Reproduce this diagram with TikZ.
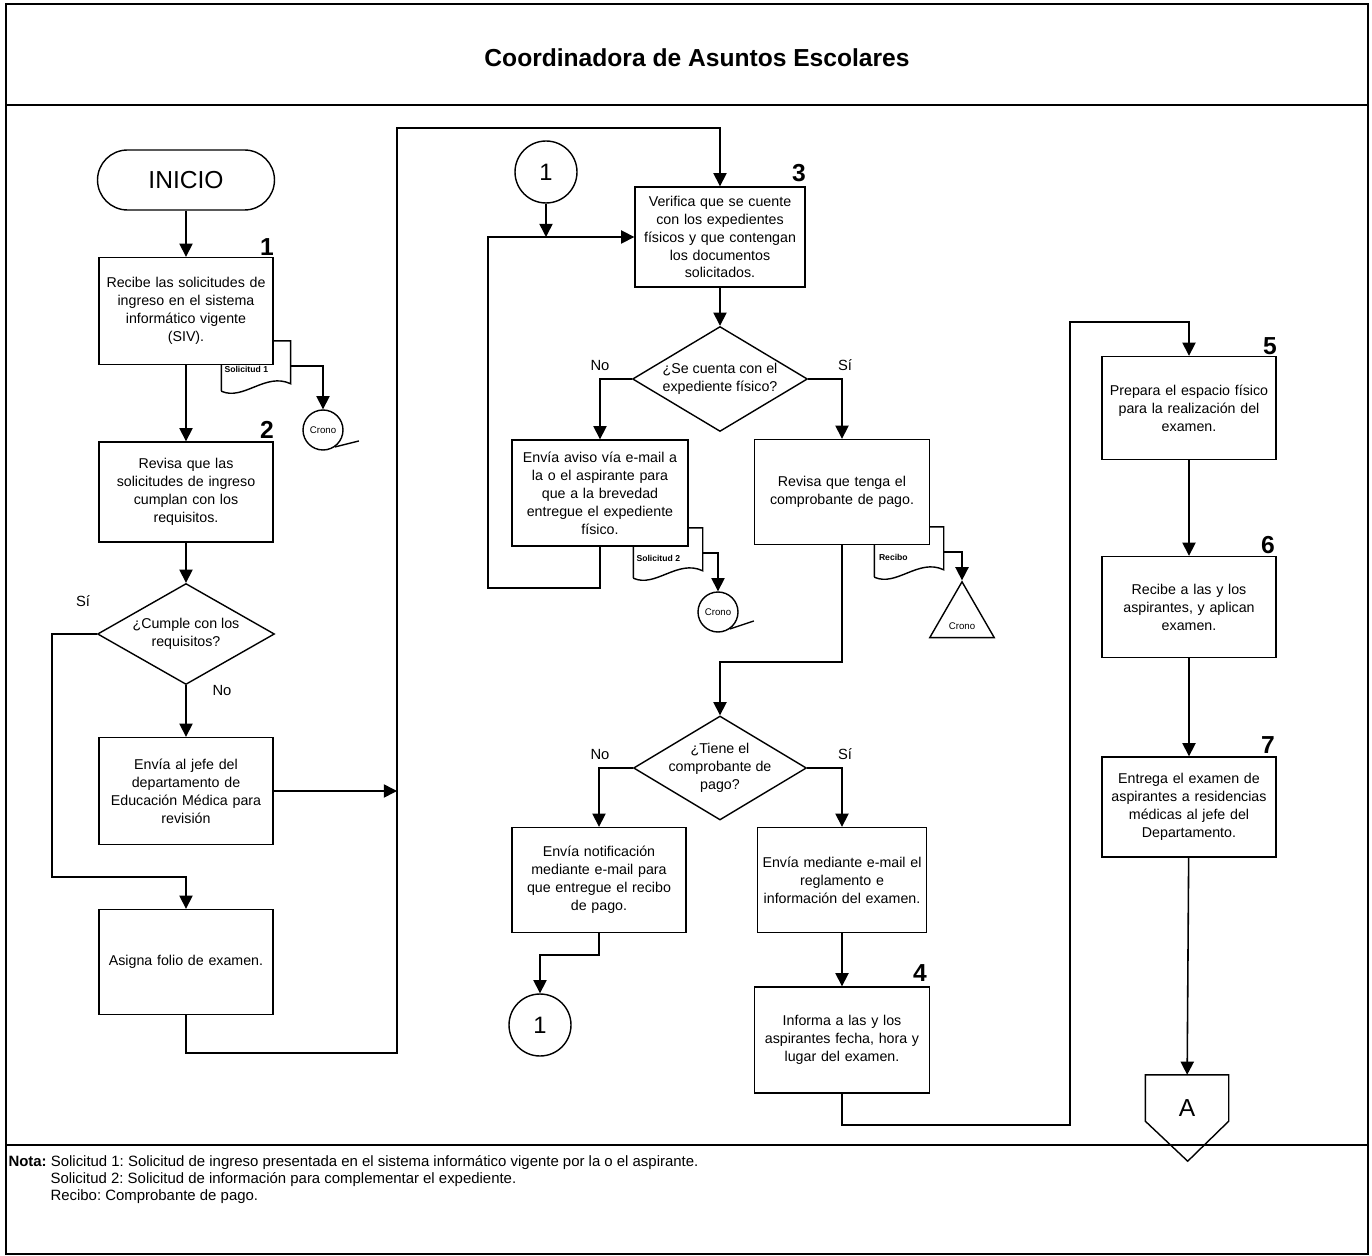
\documentclass[tikz,border=0pt]{standalone}
\usepackage{fontspec}
\setmainfont{Liberation Sans}
\frenchspacing
\usetikzlibrary{shapes.geometric,arrows.meta}
\newcommand{\downtext}[2]{\raisebox{#1}[0pt][0pt]{#2}}
\begin{document}
\begin{tikzpicture}[x=0.02cm, y=-0.02cm, line width=0.8pt,
  every node/.style={font=\fontsize{8.1}{10.2}\selectfont},
  proc/.style={draw,fill=white,minimum width=3.48cm,minimum height=2.08cm,text width=3.3cm,align=center,inner sep=1pt},
  decision/.style={draw,fill=white,diamond,aspect=1.7,minimum width=3.5cm,minimum height=2.1cm,inner sep=-6pt,align=center},
  start/.style={draw,rounded corners=0.6cm,minimum width=3.54cm,minimum height=1.2cm,font=\fontsize{14}{16}\selectfont},
  conn/.style={draw,circle,minimum size=1.24cm,inner sep=0pt,font=\fontsize{13.5}{15}\selectfont},
  crono/.style={draw,circle,minimum size=0.8cm,inner sep=0pt,font=\fontsize{5.5}{6}\selectfont},
  docbox/.style={minimum width=1.36cm,minimum height=0.98cm,inner sep=0pt,font=\fontsize{4.9}{5}\selectfont\bfseries},
  num/.style={font=\fontsize{14}{16}\selectfont\bfseries,inner sep=0pt},
  branch/.style={font=\fontsize{8.4}{9}\selectfont},
  notetext/.style={anchor=west,font=\fontsize{8.5}{9}\selectfont},
  arr/.style={-{Triangle[length=7.5pt,width=7.5pt]},line width=0.9pt}]

\useasboundingbox (0,0) rectangle (1372,1256);
\draw[line width=1.2pt] (6,4) rectangle (1368,1254);
\draw[line width=1.2pt] (6,105) -- (1368,105);
\draw[line width=1.6pt] (6,1145) -- (1368,1145);
\node[font=\fontsize{14}{16}\selectfont\bfseries] (title) at (697,58) {Coordinadora de Asuntos Escolares};

% documentos
\node[docbox] (sol1) at (256,366) {\makebox[1.26cm][l]{\downtext{-0.14cm}{Solicitud 1}}};
\draw (sol1.south west) -- (sol1.north west) -- (sol1.north east) -- ++(0,43) .. controls +(-25,-12) and +(22,10) .. (sol1.south west);
\node[docbox] (sol2) at (668,553) {\makebox[1.26cm][l]{\downtext{-0.18cm}{Solicitud 2}}};
\draw (sol2.south west) -- (sol2.north west) -- (sol2.north east) -- ++(0,43) .. controls +(-25,-12) and +(22,10) .. (sol2.south west);
\node[docbox] (recibo) at (909,552) {\makebox[1.2cm][l]{\downtext{-0.18cm}{Recibo}}};
\draw (recibo.south west) -- (recibo.north west) -- (recibo.north east) -- ++(0,43) .. controls +(-25,-12) and +(22,10) .. (recibo.south west);
\node[crono] (cr1) at (323,430) {Crono};
\node[crono] (cr2) at (718,612) {Crono};
\node[draw,regular polygon,regular polygon sides=3,minimum size=1.29cm,inner sep=0pt,font=\fontsize{5.5}{6}\selectfont] (tri) at (962,619) {\downtext{-0.22cm}{Crono}};

% columna 1
\node[start] (inicio) at (186,180) {INICIO};
\node[num] (n1) at (267,247) {1};
\node[proc,minimum height=2.14cm] (b1) at (186,311) {Recibe las solicitudes de\\ingreso en el sistema\\informático vigente\\(SIV).};
\node[num] (n2) at (267,430) {2};
\node[proc,minimum height=2cm] (b2) at (186,492) {Revisa que las\\solicitudes de ingreso\\cumplan con los\\requisitos.};
\node[decision,minimum width=3.54cm,minimum height=2.02cm] (d1) at (186,634) {¿Cumple con los\\requisitos?};
\node[branch] (si1) at (83,601) {Sí};
\node[branch] (no1) at (222,690) {No};
\node[proc,minimum height=2.14cm] (jefe) at (186,791) {Envía al jefe del\\departamento de\\Educación Médica para\\revisión};
\node[proc,minimum height=2.1cm] (folio) at (186,962) {Asigna folio de examen.};

% columna 2
\node[conn] (c1) at (546,172) {1};
\node[num] (n3) at (799,173) {3};
\node[proc,minimum width=3.4cm,minimum height=2cm] (b3) at (720,237) {Verifica que se cuente\\con los expedientes\\físicos y que contengan\\los documentos\\solicitados.};
\node[decision] (d2) at (720,379) {¿Se cuenta con el\\expediente físico?};
\node[branch] (no2) at (600,365) {No};
\node[branch] (si2) at (845,365) {Sí};
\node[proc,minimum width=3.52cm,minimum height=2.12cm] (aviso) at (600,493) {Envía aviso vía e-mail a\\la o el aspirante para\\que a la brevedad\\entregue el expediente\\físico.};
\node[proc,minimum width=3.5cm,minimum height=2.1cm] (pago) at (842,492) {Revisa que tenga el\\comprobante de pago.};
\node[decision,minimum width=3.46cm,minimum height=2.08cm] (d3) at (720,768) {¿Tiene el\\comprobante de\\pago?};
\node[branch] (no3) at (600,754) {No};
\node[branch] (si3) at (845,754) {Sí};
\node[proc,minimum width=3.48cm,minimum height=2.1cm] (notif) at (599,880) {Envía notificación\\mediante e-mail para\\que entregue el recibo\\de pago.};
\node[proc,minimum width=3.36cm,minimum height=2.1cm] (mediante) at (842,880) {Envía mediante e-mail el\\reglamento e\\información del examen.};
\node[conn] (c1b) at (540,1025) {1};
\node[num] (n4) at (920,973) {4};
\node[proc,minimum width=3.5cm,minimum height=2.12cm] (b4) at (842,1040) {Informa a las y los\\aspirantes fecha, hora y\\lugar del examen.};

% columna 3
\node[num] (n5) at (1270,346) {5};
\node[proc,minimum height=2.06cm] (b5) at (1189,408) {Prepara el espacio físico\\para la realización del\\examen.};
\node[num] (n6) at (1268,545) {6};
\node[proc,minimum height=2.02cm] (b6) at (1189,607) {Recibe a las y los\\aspirantes, y aplican\\examen.};
\node[num] (n7) at (1268,745) {7};
\node[proc,minimum height=2cm] (b7) at (1189,807) {Entrega el examen de\\aspirantes a residencias\\médicas al jefe del\\Departamento.};
\node[minimum width=1.64cm,minimum height=0.9cm,inner sep=0pt,font=\fontsize{14}{16}\selectfont] (offA) at (1187,1098) {\downtext{-0.36cm}{A}};
\draw (offA.south west) -- (offA.north west) -- (offA.north east) -- (offA.south east) -- ++(-41,40) -- cycle;

% conectores
\draw[arr] (inicio) -- (b1);
\draw[arr] (b1) -- (b2);
\draw[arr] (b2) -- (d1);
\draw[arr] (d1) -- (jefe);
\coordinate (siL) at (52,877);
\draw[arr] (d1.west) -| (siL) -| (folio.north);
\coordinate (busB) at (397,1053);
\coordinate (busT) at (397,128);
\draw[arr] (jefe.east) -- (jefe.east -| busB);
\draw[arr] (folio.south) |- (busB) -- (busT) -| (b3.north);
\draw[arr] (sol1.east) -| (cr1.north);
\draw (cr1.-55) -- ++(24,-6);

\coordinate (loopL) at (488,588);
\draw[arr] (aviso.south) |- (loopL) |- (b3.west);
\draw[arr] (c1.south) -- (c1.south |- b3.west);
\draw[arr] (b3) -- (d2);
\draw[arr] (d2.west) -| (aviso.north);
\draw[arr] (d2.east) -| (pago.north);
\draw[arr] (sol2.east) -| (cr2.north);
\draw (cr2.-55) -- ++(24,-8);
\draw[arr] (recibo.east) -| (tri.corner 1);
\draw[arr] (pago.south) -- ++(0,117) -| (d3.north);
\draw[arr] (d3.west) -| (notif.north);
\draw[arr] (d3.east) -| (mediante.north);
\draw[arr] (notif.south) -- ++(0,22) -| (c1b.north);
\draw[arr] (mediante) -- (b4);

\coordinate (busRB) at (1070,1125);
\coordinate (busRT) at (1070,322);
\draw[arr] (b4.south) |- (busRB) -- (busRT) -| (b5.north);
\draw[arr] (b5) -- (b6);
\draw[arr] (b6) -- (b7);
\draw[arr] (b7) -- (offA);

% nota
\node[notetext] (nota) at (2,1163) {\textbf{Nota:} Solicitud 1: Solicitud de ingreso presentada en el sistema informático vigente por la o el aspirante.};
\node[notetext] (nota2) at (44,1180) {Solicitud 2: Solicitud de información para complementar el expediente.};
\node[notetext] (nota3) at (44,1197) {Recibo: Comprobante de pago.};
\end{tikzpicture}
\end{document}
